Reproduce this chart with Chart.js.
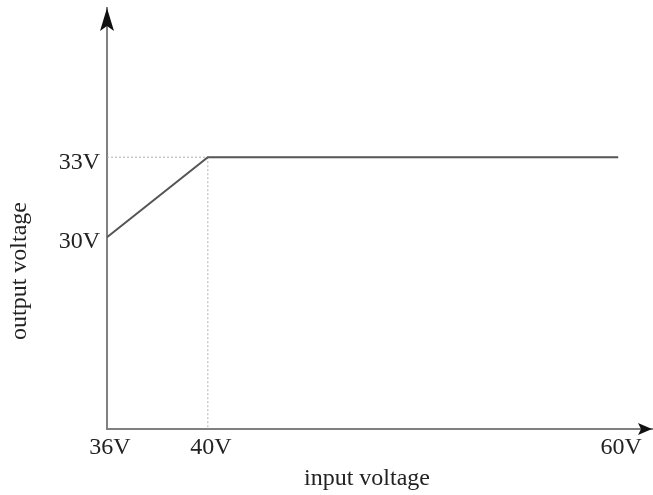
<!DOCTYPE html>
<html>
<head>
<meta charset="utf-8">
<script src="https://cdn.jsdelivr.net/npm/chart.js@4/dist/chart.umd.min.js"></script>
<style>
  html, body { margin: 0; padding: 0; background: #fff; }
  #wrap { width: 653px; height: 495px; }
</style>
</head>
<body>
<div id="wrap"><canvas id="chart"></canvas></div>
<script>
const inputVoltage = [36, 40, 60];
const outputVoltage = [30, 33, 33];
const xTicks = [36, 40, 60];
const yTicks = [30, 33];
const xTitle = 'input voltage';
const yTitle = 'output voltage';

// the x axis of the drawing is not to scale: 36->40 is short, 40->60 is long
const xStops = [36, 40, 60, 61.7];
const xFracs = [0, 0.185, 0.938, 1];

const serif = '"Liberation Serif", "DejaVu Serif", serif';
const fontSize = 24;
const lineColor = '#555';
const axisColor = '#808080';
const guideColor = '#b0b0b0';

function toFrac(v) {
    for (let i = 1; i < xStops.length; i++) {
        if (v <= xStops[i] || i === xStops.length - 1) {
            const t = (v - xStops[i - 1]) / (xStops[i] - xStops[i - 1]);
            return xFracs[i - 1] + t * (xFracs[i] - xFracs[i - 1]);
        }
    }
}
function fromFrac(f) {
    for (let i = 1; i < xFracs.length; i++) {
        if (f <= xFracs[i] || i === xFracs.length - 1) {
            const t = (f - xFracs[i - 1]) / (xFracs[i] - xFracs[i - 1]);
            return xStops[i - 1] + t * (xStops[i] - xStops[i - 1]);
        }
    }
}

class SchematicScale extends Chart.LinearScale {
    getPixelForValue(value) {
        if (value === null || value === undefined) return NaN;
        return this.getPixelForDecimal(toFrac(value));
    }
    getValueForPixel(pixel) {
        return fromFrac(this.getDecimalForPixel(pixel));
    }
}
SchematicScale.id = 'schematic';
SchematicScale.defaults = Chart.LinearScale.defaults;
Chart.register(SchematicScale);

const yMin = 22.8, yMax = 38.6;
const knee = { x: inputVoltage[1], y: outputVoltage[1] };

// arrow heads + axis titles
const decorations = {
    id: 'decorations',
    afterDraw(chart) {
        const { ctx, chartArea: a } = chart;
        ctx.save();
        ctx.fillStyle = '#111';
        // y arrow
        const yx = a.left, yt = a.top;
        ctx.beginPath();
        ctx.moveTo(yx, yt);
        ctx.lineTo(yx + 7, yt + 23);
        ctx.lineTo(yx, yt + 18);
        ctx.lineTo(yx - 7, yt + 23);
        ctx.closePath();
        ctx.fill();
        // x arrow
        const xy = a.bottom, xr = a.right;
        ctx.beginPath();
        ctx.moveTo(xr, xy);
        ctx.lineTo(xr - 14, xy - 6);
        ctx.lineTo(xr - 11, xy);
        ctx.lineTo(xr - 14, xy + 6);
        ctx.closePath();
        ctx.fill();

        ctx.fillStyle = '#222';
        ctx.font = fontSize + 'px ' + serif;
        ctx.textAlign = 'center';
        ctx.textBaseline = 'middle';
        ctx.fillText(xTitle, 367, 479);
        ctx.translate(20, 271);
        ctx.rotate(-Math.PI / 2);
        ctx.fillText(yTitle, 0, 0);
        ctx.restore();
    }
};

new Chart(document.getElementById('chart'), {
    type: 'line',
    data: {
        datasets: [
            {
                data: inputVoltage.map((x, i) => ({ x, y: outputVoltage[i] })),
                borderColor: lineColor,
                borderWidth: 2,
                pointRadius: 0,
                fill: false,
                tension: 0
            },
            {
                data: [{ x: xTicks[0], y: knee.y }, { x: knee.x, y: knee.y }],
                borderColor: guideColor,
                borderWidth: 1,
                borderDash: [2, 2],
                pointRadius: 0
            },
            {
                data: [{ x: knee.x, y: knee.y }, { x: knee.x, y: yMin }],
                borderColor: guideColor,
                borderWidth: 1,
                borderDash: [2, 2],
                pointRadius: 0
            }
        ]
    },
    options: {
        responsive: true,
        maintainAspectRatio: false,
        animation: false,
        events: [],
        layout: { padding: { left: 0, right: 1, top: 8, bottom: 0 } },
        plugins: {
            legend: { display: false },
            tooltip: { enabled: false }
        },
        scales: {
            x: {
                type: 'schematic',
                min: xStops[0],
                max: xStops[xStops.length - 1],
                afterBuildTicks: s => { s.ticks = xTicks.map(v => ({ value: v })); },
                afterFit: s => { s.height = 66; s.paddingLeft = 0; s.paddingRight = 0; },
                grid: { display: false, drawTicks: false },
                border: { display: true, color: axisColor, width: 2 },
                ticks: {
                    autoSkip: false,
                    maxRotation: 0,
                    padding: 4,
                    labelOffset: 3,
                    color: '#222',
                    font: { family: serif, size: fontSize },
                    callback: v => v + 'V'
                }
            },
            y: {
                type: 'linear',
                min: yMin,
                max: yMax,
                afterBuildTicks: s => { s.ticks = yTicks.map(v => ({ value: v })); },
                afterFit: s => { s.width = 107; s.paddingTop = 0; s.paddingBottom = 0; },
                grid: { display: false, drawTicks: false },
                border: { display: true, color: axisColor, width: 2 },
                ticks: {
                    padding: 7,
                    labelOffset: 5,
                    color: '#222',
                    font: { family: serif, size: fontSize },
                    callback: v => v + 'V'
                }
            }
        }
    },
    plugins: [decorations]
});
</script>
</body>
</html>
